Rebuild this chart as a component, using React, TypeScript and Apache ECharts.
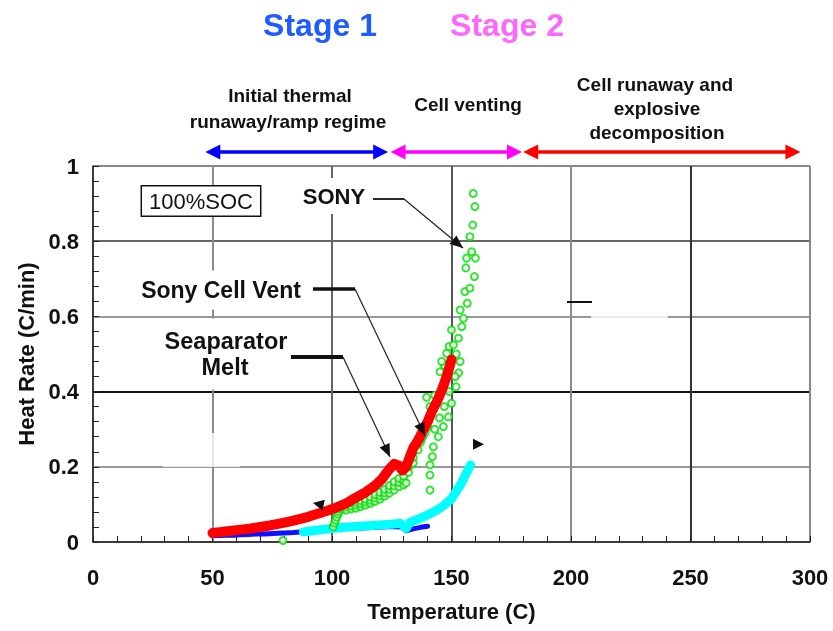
import React, { useEffect, useRef } from 'react';
import * as echarts from 'echarts';

const FONT = '"Liberation Sans", Arial, sans-serif';

// Temperature (C) vs heat rate (C/min) readings
const blueRun: [number, number][] = [
  [50, 0.017], [53, 0.017], [56, 0.018], [59, 0.018], [62, 0.019], [65, 0.02], [68, 0.021],
  [71, 0.021], [74, 0.022], [77, 0.023], [80, 0.024], [84, 0.025], [88, 0.027], [95, 0.031],
  [105, 0.035], [115, 0.038], [125, 0.041], [129, 0.04], [131, 0.03], [134, 0.035],
  [137, 0.039], [140, 0.042],
];

const cyanRun: [number, number][] = [
  [88, 0.027], [92, 0.03], [96, 0.033], [100, 0.036], [105, 0.039], [110, 0.041],
  [115, 0.043], [120, 0.045], [125, 0.047], [128.5, 0.05], [130, 0.042], [131, 0.036],
  [132.5, 0.052], [135, 0.058], [138, 0.066], [141, 0.075], [144, 0.085], [147, 0.098],
  [150, 0.115], [152, 0.135], [154, 0.155], [156, 0.18], [158, 0.205],
];

const sonyPoints: [number, number][] = [
  [79.5, 0.004], [100.5, 0.04], [101, 0.05], [101.5, 0.058], [102, 0.066], [102.5, 0.074],
  [103, 0.08], [103.5, 0.086], [104.5, 0.09],
  [106, 0.085], [106, 0.093], [106, 0.101], [108, 0.088], [108, 0.096], [108, 0.104],
  [110, 0.09], [110, 0.098], [110, 0.106], [112, 0.094], [112, 0.102], [112, 0.11],
  [114, 0.098], [114, 0.106], [114, 0.114], [116, 0.103], [116, 0.111], [116, 0.12],
  [118, 0.108], [118, 0.117], [118, 0.126], [120, 0.114], [120, 0.123], [120, 0.132],
  [122, 0.122], [122, 0.131], [122, 0.14], [124, 0.13], [124, 0.14], [124, 0.15],
  [126, 0.138], [126, 0.149], [126, 0.16], [128, 0.147], [128, 0.158], [128, 0.169],
  [130, 0.152], [130, 0.163], [130, 0.175], [131, 0.157], [132, 0.185], [132, 0.2],
  [132, 0.215], [133, 0.205], [134, 0.21], [134, 0.225], [134, 0.24], [135, 0.25],
  [136, 0.245], [136, 0.262], [137, 0.265], [137.5, 0.275], [138, 0.28], [139, 0.29],
  [139.6, 0.385], [140, 0.305], [141, 0.138], [141, 0.178], [141, 0.205], [142, 0.227],
  [142.4, 0.253], [143, 0.3], [144.5, 0.28], [145, 0.33], [146.6, 0.307], [147, 0.36],
  [148.7, 0.333], [149, 0.4], [150, 0.369], [141, 0.36], [143, 0.39], [151.9, 0.413],
  [153, 0.45], [151.5, 0.44], [145.2, 0.453], [147, 0.47], [145.9, 0.48], [153.6, 0.48],
  [152, 0.5], [148, 0.502], [149, 0.52], [150.8, 0.524], [152.9, 0.542], [150, 0.564],
  [154.3, 0.573], [155, 0.595], [153.6, 0.617], [156.6, 0.635], [155.6, 0.666],
  [157.7, 0.675], [159.6, 0.706], [156, 0.729], [156.3, 0.755], [160, 0.755],
  [158.4, 0.772], [157.7, 0.812], [158.9, 0.843], [159.8, 0.892], [159.1, 0.927],
];

const redRun: [number, number][] = [
  [50, 0.024], [54, 0.027], [58, 0.03], [62, 0.033], [66, 0.036], [70, 0.04], [74, 0.044],
  [78, 0.049], [82, 0.054], [86, 0.06], [90, 0.067], [94, 0.075], [98, 0.083], [102, 0.092],
  [106, 0.103], [110, 0.118], [114, 0.132], [118, 0.15], [121, 0.168], [124, 0.194],
  [126, 0.208], [128, 0.203], [129.5, 0.19], [131, 0.2], [132.5, 0.225], [134, 0.25],
  [136, 0.27], [138, 0.295], [140, 0.32], [142, 0.35], [144, 0.375], [146, 0.405],
  [148, 0.44], [150, 0.485],
];

const xTicks = [0, 50, 100, 150, 200, 250, 300];
const yTicks = [0, 0.2, 0.4, 0.6, 0.8, 1];

// Stage spans along the temperature axis
const stageSpans = [
  { from: 47, to: 123.5, color: '#0000ff' },
  { from: 124.5, to: 179.5, color: '#ff00ff' },
  { from: 180, to: 296, color: '#ff0000' },
];

// Points the callouts point to
const sonyTip: [number, number] = [154.8, 0.782];
const ventTip: [number, number] = [138.9, 0.283];
const meltTip: [number, number] = [124.3, 0.226];
const leftMarker: [number, number] = [92, 0.104];
const rightMarker: [number, number] = [163.6, 0.26];

function head(tip: number[], from: number[], len: number, hw: number) {
  const dx = tip[0] - from[0];
  const dy = tip[1] - from[1];
  const d = Math.hypot(dx, dy) || 1;
  const ux = dx / d;
  const uy = dy / d;
  const bx = tip[0] - ux * len;
  const by = tip[1] - uy * len;
  return [
    [tip[0], tip[1]],
    [bx - uy * hw, by + ux * hw],
    [bx + uy * hw, by - ux * hw],
  ];
}

const textStyle = (text: string, size: number, weight: string, extra: any = {}) => ({
  text,
  font: `${weight} ${size}px ${FONT}`,
  fill: '#111',
  ...extra,
});

export default function App() {
  const ref = useRef<HTMLDivElement>(null);

  useEffect(() => {
    const chart = echarts.init(ref.current!, null, { renderer: 'svg' });
    const axisText = { fontSize: 22, fontWeight: 'bold', color: '#111', fontFamily: FONT };

    chart.setOption({
      animation: false,
      grid: { left: 93, right: 23, top: 166, bottom: 89 },
      xAxis: {
        type: 'value',
        min: xTicks[0],
        max: xTicks[xTicks.length - 1],
        interval: 50,
        axisLine: { show: true, onZero: false, lineStyle: { color: '#222', width: 1.5 } },
        axisTick: { show: true, inside: true, length: 6, lineStyle: { color: '#222' } },
        minorTick: { show: true, splitNumber: 5, length: 6, lineStyle: { color: '#222' } },
        splitLine: {
          show: true,
          lineStyle: { color: ['#888', '#8c8c8c', '#666', '#555', '#8c8c8c', '#333', '#888'], width: 2 },
        },
        axisLabel: { ...axisText, margin: 24 },
        name: 'Temperature (C)',
        nameLocation: 'middle',
        nameGap: 58,
        nameTextStyle: axisText,
      },
      yAxis: {
        type: 'value',
        min: yTicks[0],
        max: yTicks[yTicks.length - 1],
        interval: 0.2,
        axisLine: { show: true, onZero: false, lineStyle: { color: '#222', width: 1.5 } },
        axisTick: { show: true, inside: true, length: 6, lineStyle: { color: '#222' } },
        minorTick: { show: true, splitNumber: 5, length: 6, lineStyle: { color: '#222' } },
        splitLine: {
          show: true,
          lineStyle: { color: ['#888', '#999', '#111', '#999', '#666', '#888'], width: 2 },
        },
        axisLabel: {
          ...axisText,
          margin: 14,
          formatter: (v: number) => (v === 0 || v === 1 ? String(v) : v.toFixed(1)),
        },
        name: 'Heat Rate (C/min)',
        nameLocation: 'middle',
        nameGap: 54,
        nameTextStyle: axisText,
      },
      series: [
        {
          name: 'Run A',
          type: 'line',
          data: blueRun,
          showSymbol: false,
          lineStyle: { color: '#1010ff', width: 5, cap: 'round', join: 'round' },
          z: 2,
        },
        {
          name: 'Run B',
          type: 'line',
          data: cyanRun,
          showSymbol: false,
          lineStyle: { color: '#00ffff', width: 9, cap: 'round', join: 'round' },
          z: 3,
        },
        {
          name: 'SONY',
          type: 'scatter',
          data: sonyPoints,
          symbol: 'emptyCircle',
          symbolSize: 7,
          itemStyle: { color: '#00e000', borderColor: '#00e000', borderWidth: 1.3 },
          z: 4,
        },
        {
          name: 'Sony cell',
          type: 'line',
          data: redRun,
          showSymbol: false,
          lineStyle: { color: '#ff0000', width: 10, cap: 'round', join: 'round' },
          z: 5,
        },
      ],
    });

    const px = (p: number[]) => chart.convertToPixel({ gridIndex: 0 }, p) as number[];
    const g: any[] = [];

    // faded patches over the grid
    g.push({ type: 'rect', z: 1, shape: { x: 163, y: 433, width: 77, height: 34 }, style: { fill: 'rgba(255,255,255,0.78)' } });
    g.push({ type: 'rect', z: 1, shape: { x: 591, y: 312, width: 77, height: 8 }, style: { fill: 'rgba(255,255,255,0.8)' } });
    g.push({ type: 'rect', z: 1, shape: { x: 160, y: 318.5, width: 132, height: 71 }, style: { fill: '#fff' } });
    g.push({ type: 'line', z: 6, shape: { x1: 567, y1: 302, x2: 592, y2: 302 }, style: { stroke: '#111', lineWidth: 2 } });

    // stage arrows above the plot
    const arrowY = 152;
    stageSpans.forEach((s) => {
      const a = px([s.from, 0])[0];
      const b = px([s.to, 0])[0];
      g.push({ type: 'line', z: 6, shape: { x1: a + 8, y1: arrowY, x2: b - 8, y2: arrowY }, style: { stroke: s.color, lineWidth: 3.5 } });
      g.push({ type: 'polygon', z: 6, shape: { points: head([a, arrowY], [b, arrowY], 15, 7.5) }, style: { fill: s.color } });
      g.push({ type: 'polygon', z: 6, shape: { points: head([b, arrowY], [a, arrowY], 15, 7.5) }, style: { fill: s.color } });
    });

    // titles and stage descriptions
    g.push({ type: 'text', z: 6, x: 320, y: 25, style: textStyle('Stage 1', 32, 'bold', { fill: '#1f5cff', align: 'center', verticalAlign: 'middle' }) });
    g.push({ type: 'text', z: 6, x: 507, y: 25, style: textStyle('Stage 2', 32, 'bold', { fill: '#ff66ff', align: 'center', verticalAlign: 'middle' }) });
    const regionLabel = (text: string, x: number, y: number) =>
      g.push({ type: 'text', z: 6, x, y, style: textStyle(text, 19, 'bold', { align: 'center', verticalAlign: 'middle' }) });
    regionLabel('Initial thermal', 290, 95);
    regionLabel('runaway/ramp regime', 288, 121);
    regionLabel('Cell venting', 468, 104);
    regionLabel('Cell runaway and', 655, 84);
    regionLabel('explosive', 657, 108);
    regionLabel('decomposition', 657, 132);

    // labels inside the plot
    g.push({
      type: 'text', z: 7, x: 201, y: 201,
      style: textStyle('100%SOC', 22, 'normal', {
        align: 'center', verticalAlign: 'middle', backgroundColor: '#fff',
        borderColor: '#111', borderWidth: 1.5, padding: [4, 7, 3, 7],
      }),
    });
    g.push({
      type: 'text', z: 7, x: 334, y: 196,
      style: textStyle('SONY', 22, 'bold', { align: 'center', verticalAlign: 'middle', backgroundColor: '#fff', padding: [7, 3] }),
    });
    g.push({
      type: 'text', z: 7, x: 221, y: 290,
      style: textStyle('Sony Cell Vent', 23, 'bold', { align: 'center', verticalAlign: 'middle', backgroundColor: '#fff', padding: [8, 3] }),
    });
    g.push({ type: 'text', z: 7, x: 226, y: 341, style: textStyle('Seaparator', 23.5, 'bold', { align: 'center', verticalAlign: 'middle' }) });
    g.push({ type: 'text', z: 7, x: 225, y: 367, style: textStyle('Melt', 23.5, 'bold', { align: 'center', verticalAlign: 'middle' }) });

    // callout leaders
    const leader = (x1: number, x2: number, y: number, w: number, tip: number[]) => {
      const t = px(tip);
      g.push({ type: 'line', z: 8, shape: { x1, y1: y, x2, y2: y }, style: { stroke: '#111', lineWidth: w } });
      g.push({ type: 'line', z: 8, shape: { x1: x2, y1: y, x2: t[0], y2: t[1] }, style: { stroke: '#222', lineWidth: 1.2 } });
      g.push({ type: 'polygon', z: 8, shape: { points: head(t, [x2, y], 13, 5.5) }, style: { fill: '#111' } });
    };
    leader(373, 404, 199, 1.8, sonyTip);
    leader(313, 355, 289, 3.3, ventTip);
    leader(291, 343, 357, 4, meltTip);

    // small direction markers
    const lm = px(leftMarker);
    g.push({ type: 'polygon', z: 8, shape: { points: head(lm, [lm[0] + 10, lm[1] + 2], 11, 5.5) }, style: { fill: '#111' } });
    const rm = px(rightMarker);
    g.push({ type: 'polygon', z: 8, shape: { points: head(rm, [rm[0] - 10, rm[1]], 11, 5.5) }, style: { fill: '#111' } });

    chart.setOption({ graphic: g });

    return () => chart.dispose();
  }, []);

  return <div ref={ref} style={{ position: 'fixed', left: 0, top: 0, width: 833, height: 631 }} />;
}
